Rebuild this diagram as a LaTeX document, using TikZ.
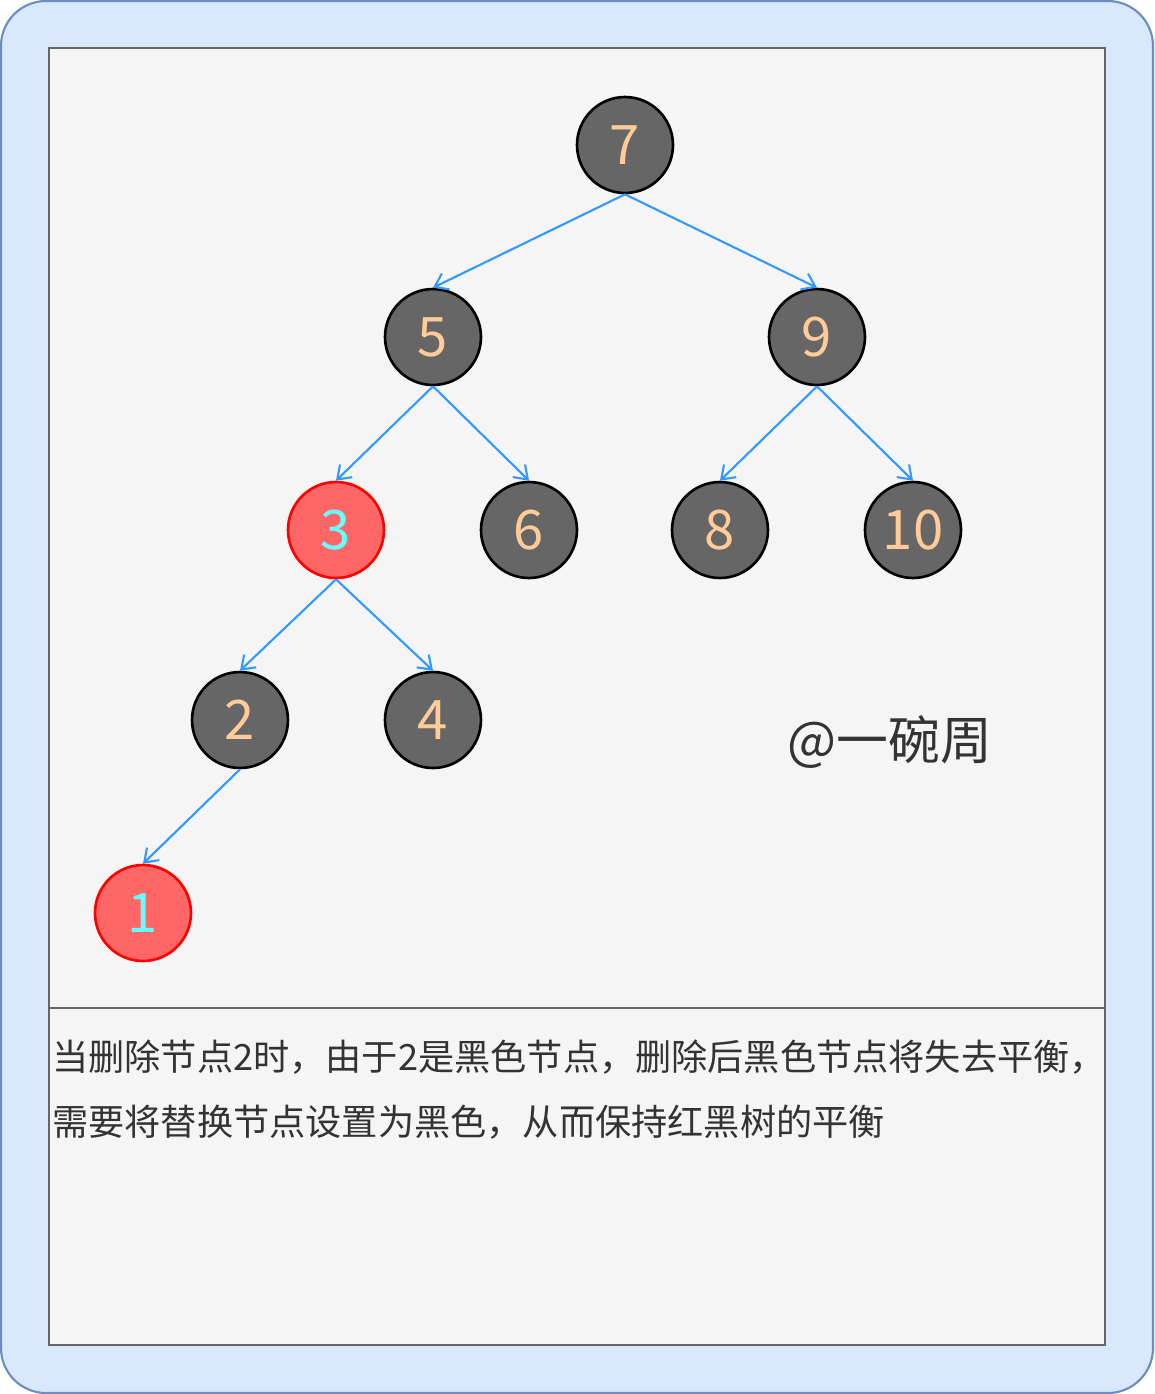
\documentclass[tikz,border=0pt]{standalone}
\usepackage{fontspec}
\setmainfont{Noto Sans CJK SC}
\usetikzlibrary{arrows.meta, positioning}
\definecolor{panelblue}{HTML}{DAE8FC}
\definecolor{panelline}{HTML}{6C8EBF}
\definecolor{sheetgray}{HTML}{F5F5F5}
\definecolor{sheetline}{HTML}{666666}
\definecolor{nodegray}{HTML}{666666}
\definecolor{nodered}{HTML}{FF6666}
\definecolor{digitpeach}{HTML}{FFCC99}
\definecolor{digitcyan}{HTML}{66FFFF}
\definecolor{linkblue}{HTML}{3399FF}
\definecolor{textdark}{HTML}{333333}

\begin{document}
\begin{tikzpicture}[x=0.02cm,y=-0.02cm,
    blacknode/.style={circle,draw=black,fill=nodegray,line width=1.5pt,minimum size=1.92cm,inner sep=0pt,text=digitpeach,font=\fontsize{31}{31}\selectfont},
    rednode/.style={blacknode,draw=red,fill=nodered,text=digitcyan},
    treelink/.style={-{Straight Barb[length=7pt,width=10pt]},draw=linkblue,line width=1.2pt}]
    \useasboundingbox (0,0) rectangle (1154,1394);

    % Cornice e foglio
    \draw[panelline,fill=panelblue,line width=1.2pt,rounded corners=0.9cm] (1,1) rectangle (1153,1393);
    \draw[sheetline,fill=sheetgray,line width=1.1pt] (49,48) rectangle (1105,1345);
    \draw[sheetline,line width=1.1pt] (49,1008) -- (1105,1008);

    % Nodi dell'albero
    \node[blacknode] (n7) at (625,145) {7};
    \node[blacknode] (n5) at (433,337) {5};
    \node[blacknode] (n9) at (817,337) {9};
    \node[rednode] (n3) at (336,530) {3};
    \node[blacknode] (n6) at (529,530) {6};
    \node[blacknode] (n8) at (720,530) {8};
    \node[blacknode] (n10) at (913,530) {10};
    \node[blacknode] (n2) at (240,720) {2};
    \node[blacknode] (n4) at (433,720) {4};
    \node[rednode] (n1) at (143,913) {1};

    % Collegamenti
    \draw[treelink] (n7.south) -- (n5.north);
    \draw[treelink] (n7.south) -- (n9.north);
    \draw[treelink] (n5.south) -- (n3.north);
    \draw[treelink] (n5.south) -- (n6.north);
    \draw[treelink] (n9.south) -- (n8.north);
    \draw[treelink] (n9.south) -- (n10.north);
    \draw[treelink] (n3.south) -- (n2.north);
    \draw[treelink] (n3.south) -- (n4.north);
    \draw[treelink] (n2.south) -- (n1.north);

    % Firma
    \node[text=textdark,font=\fontsize{29.5}{29.5}\selectfont] (sign) at (890,742) {@一碗周};

    % Didascalia
    \node[anchor=west,text=textdark,font=\fontsize{20.6}{20.6}\selectfont,inner sep=0pt] (cap1) at (52,1057) {当删除节点2时，由于2是黑色节点，删除后黑色节点将失去平衡，};
    \node[anchor=west,text=textdark,font=\fontsize{20.6}{20.6}\selectfont,inner sep=0pt] (cap2) at (52,1122) {需要将替换节点设置为黑色，从而保持红黑树的平衡};
\end{tikzpicture}
\end{document}
